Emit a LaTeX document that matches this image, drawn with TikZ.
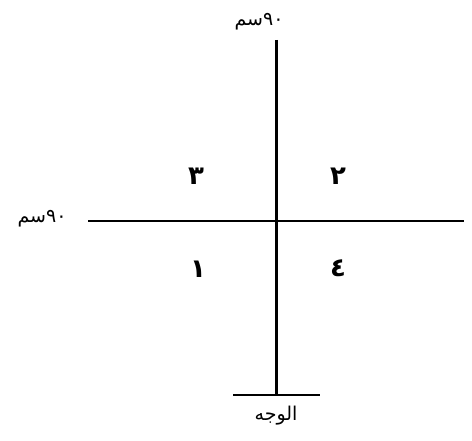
\documentclass[tikz,border=0pt]{standalone}
\usepackage{fontspec}
\newfontfamily\arabicfont[Script=Arabic]{DejaVu Sans}
\TeXXeTstate=1
\begin{document}
\begin{tikzpicture}[x=1pt,y=1pt,
  lbl/.style={font=\arabicfont\fontsize{19}{22}\selectfont, inner sep=0pt},
  num/.style={font=\arabicfont\bfseries\fontsize{26}{28}\selectfont, inner sep=0pt}]
\useasboundingbox (0,0) rectangle (472,440);
\coordinate (top) at (276,400);
\coordinate (bot) at (276,45);
\coordinate (bl) at (233,45);
\coordinate (br) at (320,45);
\coordinate (hl) at (88,219);
\coordinate (hr) at (464,219);
\draw[line width=3pt] (top) -- (bot);
\draw[line width=2pt] (bl) -- (br);
\draw[line width=1.8pt] (hl) -- (hr);
\node[lbl] (t1) at (259,418) {\beginR ٩٠سم\endR};
\node[lbl] (t2) at (42,221) {\beginR ٩٠سم\endR};
\node[lbl] (t3) at (276,24) {\beginR الوجه\endR};
\node[num] (n3) at (196,264) {٣};
\node[num] (n2) at (338,264) {٢};
\node[num] (n1) at (198,171) {١};
\node[num] (n4) at (338,172) {٤};
\end{tikzpicture}
\end{document}
